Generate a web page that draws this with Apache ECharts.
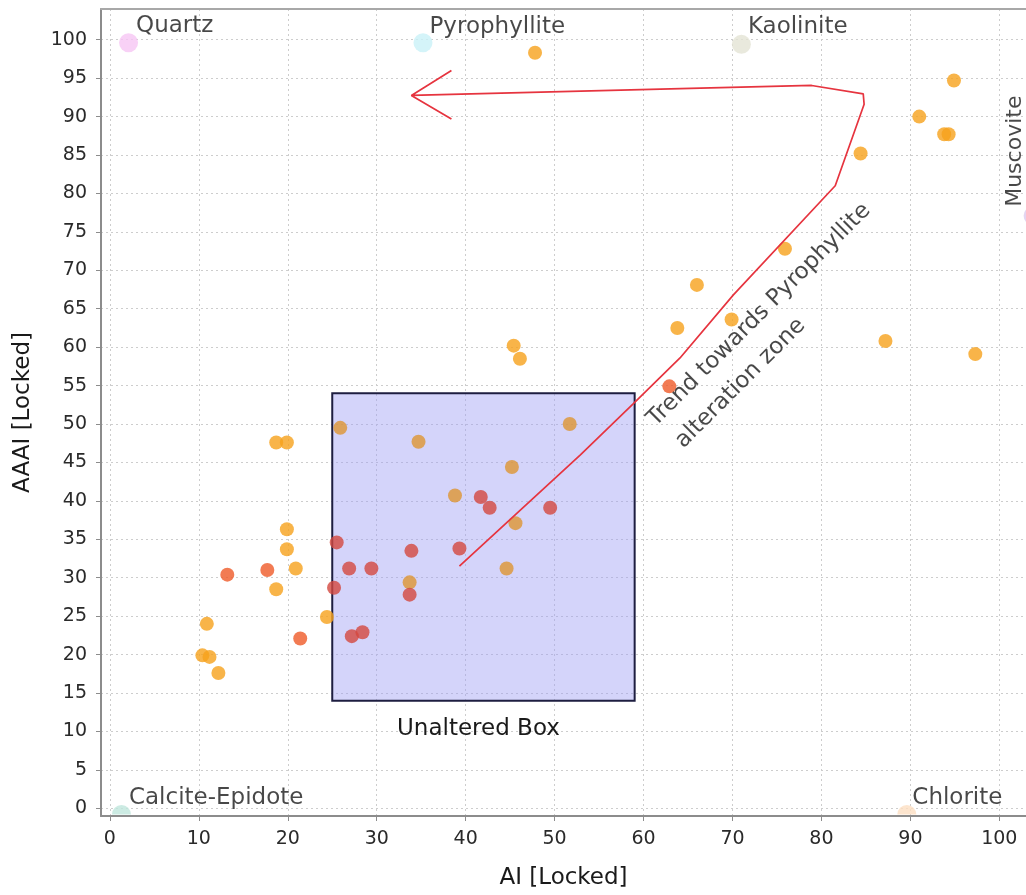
<!DOCTYPE html>
<html>
<head>
<meta charset="utf-8">
<title>AAAI vs AI</title>
<script src="https://cdn.jsdelivr.net/npm/echarts@6/dist/echarts.min.js"></script>
<style>
  html, body { margin: 0; padding: 0; background: #ffffff; }
  #chart { width: 1026px; height: 895px; }
</style>
</head>
<body>
<div id="chart"></div>
<script>
// Tick positions on both axes
const xTicks = [0, 10, 20, 30, 40, 50, 60, 70, 80, 90, 100];
const yTicks = [0, 5, 10, 15, 20, 25, 30, 35, 40, 45, 50, 55, 60, 65, 70, 75, 80, 85, 90, 95, 100];

// Samples outside the unaltered box (orange)
const orangeOutside = [
  [47.8, 98.3], [94.9, 94.7], [91.0, 90.0], [93.8, 87.7], [94.3, 87.7],
  [84.4, 85.2], [75.9, 72.8], [66.0, 68.1], [63.8, 62.5], [69.9, 63.6],
  [87.2, 60.8], [97.3, 59.1], [45.4, 60.2], [46.1, 58.5], [18.7, 47.6],
  [19.9, 47.6], [19.9, 36.3], [19.9, 33.7], [20.9, 31.2], [18.7, 28.5],
  [24.4, 24.9], [10.9, 24.0], [10.4, 19.9], [11.2, 19.7], [12.2, 17.6]
];
// Orange samples inside the box
const orangeInside = [
  [25.9, 49.5], [51.7, 50.0], [34.7, 47.7], [45.2, 44.4], [38.8, 40.7],
  [45.6, 37.1], [44.6, 31.2], [33.7, 29.4]
];
// Red-orange samples
const redOrange = [[13.2, 30.4], [17.7, 31.0], [21.4, 22.1], [62.9, 54.9]];
// Dark red samples
const darkRed = [
  [25.5, 34.6], [26.9, 31.2], [29.4, 31.2], [25.2, 28.7], [27.2, 22.4],
  [28.4, 22.9], [41.7, 40.5], [42.7, 39.1], [49.5, 39.1], [39.3, 33.8],
  [33.9, 33.5], [33.7, 27.8]
];

// Mineral end-members: name, AI, AAAI
const endMembers = [
  ['Quartz', 2.1, 99.6],
  ['Pyrophyllite', 35.2, 99.6],
  ['Kaolinite', 71.0, 99.4],
  ['Muscovite', 103.8, 77.1],
  ['Calcite-Epidote', 1.3, -0.8],
  ['Chlorite', 89.6, -0.8]
];

// Unaltered box extent: [AI min, AAAI max], [AI max, AAAI min]
const unalteredBox = [[25, 54], [59, 14]];

// Hand-drawn trend path with arrowhead
const trendPath = [
  [39.3, 31.5], [52.9, 46.0], [58.8, 52.6], [64.1, 58.6], [70.1, 66.8],
  [81.55, 81.0], [84.8, 91.6], [84.7, 92.95], [78.9, 94.05], [66.4, 93.7],
  [33.9, 92.75], [38.4, 96.0], [33.9, 92.75], [38.4, 89.7]
];

// Free text annotations anchored in data space
const notes = [
  ['Trend towards Pyrophyllite', 73.0, 64.2],
  ['alteration zone', 70.9, 55.3]
];
const muscoviteLabelAt = [101.8, 85.5];

const FONT = '"DejaVu Sans", "Liberation Sans", Arial, sans-serif';
const TEXT = '#1a1a1a';

const memberStyle = {
  'Quartz':          { color: '#f6c6f4', offset: [-2, -17] },
  'Pyrophyllite':    { color: '#c9f1f7', offset: [-3, -16] },
  'Kaolinite':       { color: '#e4e4d4', offset: [-3, -17] },
  'Muscovite':       { color: '#dccaee', offset: [0, 0] },
  'Calcite-Epidote': { color: '#bfe6dc', offset: [-2, -12] },
  'Chlorite':        { color: '#fddfc2', offset: [-4, -12] }
};

const chart = echarts.init(document.getElementById('chart'), null, { renderer: 'canvas' });

const X_MIN = -1, X_MAX = 103, Y_MIN = -1, Y_MAX = 104;

const option = {
  animation: false,
  backgroundColor: '#ffffff',
  grid: { left: 101, top: 9, width: 925, height: 812, show: false },
  xAxis: [
    {
      type: 'value', min: X_MIN, max: X_MAX, position: 'bottom',
      name: 'AI [Locked]', nameLocation: 'middle', nameGap: 51,
      nameTextStyle: { fontSize: 23, color: TEXT, fontFamily: FONT },
      axisLine: { show: true, onZero: false, lineStyle: { color: '#8c8c8c', width: 2 } },
      axisTick: { show: true, length: 5, customValues: xTicks, lineStyle: { color: '#8c8c8c' } },
      axisLabel: { customValues: xTicks, margin: 14, fontSize: 19, color: '#2a2a2a', fontFamily: FONT },
      splitLine: { show: true, lineStyle: { color: '#cdcdcd', width: 1, type: [2, 3] } }
    },
    {
      // plain frame line along the top edge
      type: 'value', min: X_MIN, max: X_MAX, position: 'top',
      axisLine: { show: true, onZero: false, lineStyle: { color: '#a8a8a8', width: 2 } },
      axisTick: { show: false }, axisLabel: { show: false }, splitLine: { show: false }
    }
  ],
  yAxis: {
    type: 'value', min: Y_MIN, max: Y_MAX,
    name: 'AAAI [Locked]', nameLocation: 'middle', nameGap: 66,
    nameTextStyle: { fontSize: 23, color: TEXT, fontFamily: FONT },
    axisLine: { show: true, onZero: false, lineStyle: { color: '#8c8c8c', width: 2 } },
    axisTick: { show: true, length: 5, customValues: yTicks, lineStyle: { color: '#8c8c8c' } },
    axisLabel: { customValues: yTicks, margin: 14, fontSize: 19, color: '#2a2a2a', fontFamily: FONT },
    splitLine: { show: true, lineStyle: { color: '#cdcdcd', width: 1, type: [2, 3] } }
  },
  series: [
    {
      name: 'Unaltered box',
      type: 'scatter',
      data: [],
      markArea: {
        silent: true,
        itemStyle: { color: 'rgba(160,160,245,0.45)', borderColor: '#1e1e40', borderWidth: 2 },
        label: {
          show: true, position: 'bottom', distance: 16, offset: [-5, 0],
          formatter: 'Unaltered Box', fontSize: 23, color: TEXT, fontFamily: FONT
        },
        data: [[{ coord: unalteredBox[0] }, { coord: unalteredBox[1] }]]
      },
      z: 1
    },
    {
      name: 'Trend',
      type: 'line',
      data: trendPath,
      showSymbol: false,
      symbol: 'none',
      silent: true,
      lineStyle: { color: '#e6343f', width: 1.7 },
      z: 4
    },
    {
      name: 'Orange outside',
      type: 'scatter',
      data: orangeOutside,
      symbolSize: 14,
      itemStyle: { color: '#f6a11c' },
      z: 3
    },
    {
      name: 'Orange inside',
      type: 'scatter',
      data: orangeInside,
      symbolSize: 14,
      itemStyle: { color: '#dd9532' },
      z: 3
    },
    {
      name: 'Red-orange',
      type: 'scatter',
      data: redOrange,
      symbolSize: 14,
      itemStyle: { color: '#ef5a28' },
      z: 3
    },
    {
      name: 'Dark red',
      type: 'scatter',
      data: darkRed,
      symbolSize: 14,
      itemStyle: { color: '#d3473f' },
      z: 3
    },
    {
      name: 'End-members',
      type: 'scatter',
      clip: false,
      z: 2,
      data: endMembers.map(function (m) {
        const st = memberStyle[m[0]];
        const low = m[2] < 0;
        return {
          name: m[0],
          value: [m[1], m[2]],
          symbol: low ? 'path://M0,10 A10,10 0 0 1 20,10 Z' : 'circle',
          symbolSize: low ? [19, 9.5] : 19,
          symbolOffset: low ? [0, '-50%'] : [0, 0],
          itemStyle: { color: st.color },
          label: {
            show: m[0] !== 'Muscovite',
            position: 'right',
            distance: 0,
            offset: st.offset,
            formatter: '{b}',
            fontSize: 23,
            color: TEXT,
            fontFamily: FONT
          }
        };
      })
    },
    {
      name: 'Notes',
      type: 'scatter',
      symbolSize: 0,
      silent: true,
      clip: false,
      z: 5,
      data: notes.map(function (n) {
        return {
          name: n[0], value: [n[1], n[2]],
          label: {
            show: true, position: 'inside', rotate: 45, formatter: '{b}',
            fontSize: 23, color: TEXT, fontFamily: FONT
          }
        };
      }).concat([{
        name: 'Muscovite', value: muscoviteLabelAt,
        label: {
          show: true, position: 'inside', rotate: 90, formatter: '{b}',
          fontSize: 22, color: TEXT, fontFamily: FONT
        }
      }])
    }
  ]
};

chart.setOption(option);
</script>
</body>
</html>
